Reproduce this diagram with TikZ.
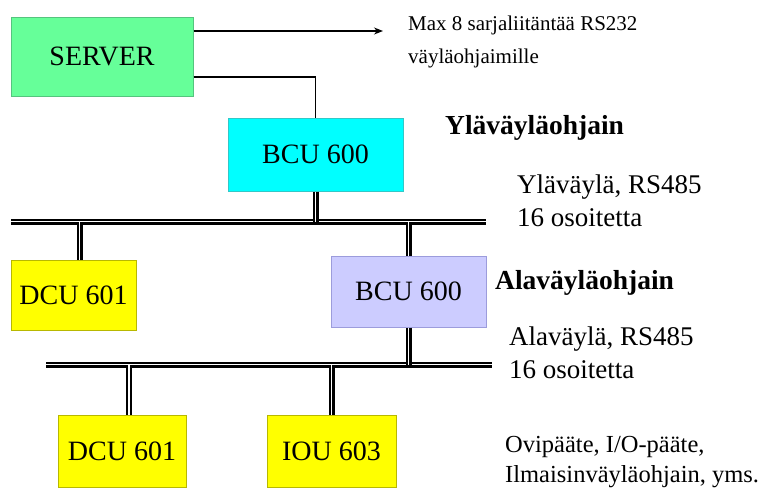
\documentclass[tikz,border=0pt]{standalone}
\usepackage{fontspec}
\setmainfont{Liberation Serif}
\usetikzlibrary{arrows.meta}
\definecolor{servergreen}{HTML}{66FF99}
\definecolor{serverrim}{HTML}{55C47E}
\definecolor{upcyan}{HTML}{00FFFF}
\definecolor{upcyanrim}{HTML}{33C8C8}
\definecolor{lowlilac}{HTML}{CCCCFF}
\definecolor{lowlilacrim}{HTML}{9C9CDC}
\definecolor{unityellow}{HTML}{FFFF00}
\definecolor{unityellowrim}{HTML}{B8B800}
\def \boxfont {\fontsize{28}{32}\selectfont}
\def \sidefont {\fontsize{27}{33}\selectfont}
\def \titlefont {\fontsize{27.5}{32}\selectfont\bfseries}
\def \unitfont {\fontsize{24.5}{30}\selectfont}
\def \notefont {\fontsize{21}{33}\selectfont}
\tikzset{
  unit/.style={rectangle, draw=#1, line width=1pt, inner sep=0pt, font=\boxfont},
  busline/.style={draw=black, double=white, line width=2.2pt, double distance=1.6pt},
  side/.style={anchor=west, inner sep=0pt, align=left, font=\sidefont},
  wire/.style={line width=1.3pt}
}
\begin{document}
\begin{tikzpicture}[x=1pt,y=-1pt]
\useasboundingbox (0,0) rectangle (761,493);
% Draw the units
\node[unit=serverrim, fill=servergreen, minimum width=182pt, minimum height=79pt] (server) at (102,56.5) {SERVER};
\node[unit=upcyanrim, fill=upcyan, minimum width=175pt, minimum height=73pt] (bcuUp) at (315.5,154.5) {BCU 600};
\node[unit=unityellowrim, fill=unityellow, minimum width=125pt, minimum height=70pt] (dcuUp) at (73.5,295) {DCU 601};
\node[unit=lowlilacrim, fill=lowlilac, minimum width=155pt, minimum height=71pt] (bcuLow) at (408.5,291.5) {BCU 600};
\node[unit=unityellowrim, fill=unityellow, minimum width=128pt, minimum height=72pt] (dcuLow) at (122,451) {DCU 601};
\node[unit=unityellowrim, fill=unityellow, minimum width=129pt, minimum height=72pt] (iouLow) at (331.5,451) {IOU 603};
% Draw the two buses
\coordinate (upBusL) at (11,221.5);
\coordinate (upBusR) at (486,221.5);
\coordinate (lowBusL) at (46,364.5);
\coordinate (lowBusR) at (492,364.5);
\draw[busline] (upBusL) -- (upBusR);
\draw[busline] (lowBusL) -- (lowBusR);
% Draw the drops to the buses
\draw[busline] (bcuUp.south) -- (bcuUp.south |- upBusL);
\draw[busline] ([xshift=6pt]dcuUp.north) -- ([xshift=6pt]dcuUp.north |- upBusL);
\draw[busline] (bcuLow.north) -- (bcuLow.north |- upBusL);
\draw[busline] (bcuLow.south) -- (bcuLow.south |- lowBusL);
\draw[busline] ([xshift=7pt]dcuLow.north) -- ([xshift=7pt]dcuLow.north |- lowBusL);
\draw[busline] (iouLow.north) -- (iouLow.north |- lowBusL);
% Draw the serial lines of the server
\coordinate (serialEnd) at (383,31);
\draw[wire, -{Stealth[length=9pt,width=7pt]}] (server.east |- serialEnd) -- (serialEnd);
\draw[wire] ([yshift=-20.5pt]server.east) -| (bcuUp.north);
% Draw the texts beside
\node[side, font=\notefont] (serialNote) at (408,41.5) {Max 8 sarjaliitäntää RS232\\väyläohjaimille};
\node[side, font=\titlefont] (upTitle) at (445,128) {Yläväyläohjain};
\node[side] (upBusNote) at (517,201) {Yläväylä, RS485\\16 osoitetta};
\node[side, font=\titlefont] (lowTitle) at (495,283) {Alaväyläohjain};
\node[side] (lowBusNote) at (509,352.5) {Alaväylä, RS485\\16 osoitetta};
\node[side, font=\unitfont] (unitNote) at (505,462) {Ovipääte, I/O-pääte,\\Ilmaisinväyläohjain, yms.};
\end{tikzpicture}
\end{document}
